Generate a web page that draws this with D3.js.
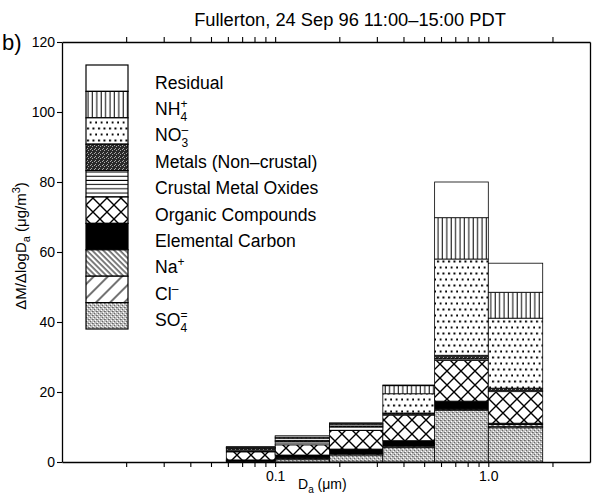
<!DOCTYPE html>
<html>
<head>
<meta charset="utf-8">
<script src="https://d3js.org/d3.v7.min.js"></script>
<style>
body { margin: 0; background: #fff; }
text { font-family: "Liberation Sans", Arial, Helvetica, sans-serif; fill: #000; }
</style>
</head>
<body>
<div id="chart"></div>
<script>
// MOUDI size bins (um)
var binLo = [0.059, 0.1, 0.18, 0.32, 0.56, 1.0]
var binHi = [0.1, 0.18, 0.32, 0.56, 1.0, 1.8]

// stack order, bottom to top
var species = ["SO4", "Cl", "Na", "EC", "Organic", "Crustal", "Metals", "NO3", "NH4", "Residual"]

// dM/dlogDa (ug/m3) for each bin
var so4      = [0.2, 0.8, 2.0, 4.2, 14.8, 9.8]
var cl       = [0.1, 0.2, 0.3, 0.3, 0.2, 0.4]
var na       = [0.1, 0.2, 0.2, 0.2, 0.3, 0.5]
var ec       = [0.2, 0.8, 1.2, 1.4, 2.1, 0.4]
var organic  = [2.3, 2.9, 5.3, 7.3, 11.6, 9.0]
var crustal  = [0.5, 1.0, 1.0, 0.3, 0.5, 0.4]
var metals   = [0.5, 0.3, 0.3, 0.3, 1.0, 0.6]
var no3      = [0.2, 0.6, 0.5, 5.5, 27.5, 20.0]
var nh4      = [0.1, 0.3, 0.2, 2.3, 11.8, 7.4]
var residual = [0.2, 0.4, 0.2, 0.2, 10.2, 8.3]

var yTicks = [0, 20, 40, 60, 80, 100, 120]
var xTicks = [0.02, 0.03, 0.04, 0.05, 0.06, 0.07, 0.08, 0.09, 0.1,
              0.2, 0.3, 0.4, 0.5, 0.6, 0.7, 0.8, 0.9, 1, 2]
var xTickLabels = {0.1: "0.1", 1: "1.0"}

// legend, top to bottom
var legendKeys = ["Residual", "NH4", "NO3", "Metals", "Crustal", "Organic", "EC", "Na", "Cl", "SO4"]
var legendText = ["Residual", "NH", "NO", "Metals (Non\u2013crustal)", "Crustal Metal Oxides",
                  "Organic Compounds", "Elemental Carbon", "Na", "Cl", "SO"]
var legendSup  = ["", "+", "\u2013", "", "", "", "", "+", "\u2013", "="]
var legendSub  = ["", "4", "3", "", "", "", "", "", "", "4"]

var margin = {top: 42, right: 2, bottom: 33, left: 62},
    width = 592 - margin.left - margin.right,
    height = 495 - margin.top - margin.bottom;

var root = d3.select("#chart")
  .append("svg")
    .attr("width", 592)
    .attr("height", 495)

// fill patterns
var defs = root.append("defs")
function pattern(id, w, h, transform) {
  var p = defs.append("pattern")
    .attr("id", id)
    .attr("patternUnits", "userSpaceOnUse")
    .attr("width", w)
    .attr("height", h)
  if (transform) p.attr("patternTransform", transform)
  p.append("rect").attr("width", w).attr("height", h).attr("fill", "#fff")
  return p
}
var p
p = pattern("vlines", 4.4, 4)
p.append("line").attr("x1", 2).attr("x2", 2).attr("y1", 0).attr("y2", 4).attr("stroke", "#000").attr("stroke-width", 1)
p = pattern("dots", 5.5, 12)
p.append("rect").attr("x", 1).attr("y", 2.5).attr("width", 2).attr("height", 2).attr("fill", "#000")
p.append("rect").attr("x", 3.75).attr("y", 8.5).attr("width", 2).attr("height", 2).attr("fill", "#000")
p = pattern("dense", 4, 4)
p.select("rect").attr("fill", "#2a2a2a")
;[[0,0],[2,1],[1,3]].forEach(function(d){
  p.append("rect").attr("x", d[0]).attr("y", d[1]).attr("width", 1).attr("height", 1).attr("fill", "#aaa")
})
p = pattern("hlines", 4, 4.2)
p.append("line").attr("x1", 0).attr("x2", 4).attr("y1", 2).attr("y2", 2).attr("stroke", "#000").attr("stroke-width", 1)
p = pattern("cross", 14, 14)
p.append("path").attr("d", "M0,0L14,14M14,0L0,14").attr("stroke", "#000").attr("stroke-width", 1.4)
p = pattern("back", 3.9, 4, "rotate(-45)")
p.append("line").attr("x1", 2).attr("x2", 2).attr("y1", 0).attr("y2", 4).attr("stroke", "#000").attr("stroke-width", 1)
p = pattern("fwd", 10, 10, "rotate(45)")
p.append("line").attr("x1", 5).attr("x2", 5).attr("y1", 0).attr("y2", 10).attr("stroke", "#000").attr("stroke-width", 1.1)
p = pattern("stipple", 4, 4)
p.select("rect").attr("fill", "#bdbdbd")
;[[0,0,"#666"],[2,2,"#666"],[1,3,"#fff"],[3,1,"#fff"],[3,2,"#888"]].forEach(function(d){
  p.append("rect").attr("x", d[0]).attr("y", d[1]).attr("width", 1).attr("height", 1).attr("fill", d[2])
})

var fills = {
  Residual: "#fff", NH4: "url(#vlines)", NO3: "url(#dots)", Metals: "url(#dense)",
  Crustal: "url(#hlines)", Organic: "url(#cross)", EC: "#000", Na: "url(#back)",
  Cl: "url(#fwd)", SO4: "url(#stipple)"
}

var svg = root.append("g")
    .attr("transform", "translate(" + margin.left + "," + margin.top + ")");

// scales
var x = d3.scaleLog()
  .domain([0.01, 3])
  .range([0, width])
var y = d3.scaleLinear()
  .domain([0, 120])
  .range([height, 0])

// build rows for the stack
var values = {SO4: so4, Cl: cl, Na: na, EC: ec, Organic: organic, Crustal: crustal,
              Metals: metals, NO3: no3, NH4: nh4, Residual: residual}
var rows = binLo.map(function(lo, i) {
  var r = {lo: lo, hi: binHi[i]}
  species.forEach(function(k){ r[k] = values[k][i] })
  return r
})
var stacked = d3.stack().keys(species)(rows)

// bars
svg.append("g")
  .selectAll("g")
  .data(stacked)
  .enter()
  .append("g")
    .attr("fill", function(d){ return fills[d.key] })
  .selectAll("rect")
  .data(function(d){ return d })
  .enter()
  .append("rect")
    .attr("x", function(d){ return x(d.data.lo) })
    .attr("width", function(d){ return x(d.data.hi) - x(d.data.lo) })
    .attr("y", function(d){ return y(d[1]) })
    .attr("height", function(d){ return y(d[0]) - y(d[1]) })
    .attr("stroke", "#000")
    .attr("stroke-width", 0.8)

// bar outlines
var top = stacked[stacked.length - 1]
svg.append("g")
  .selectAll("rect")
  .data(top)
  .enter()
  .append("rect")
    .attr("x", function(d){ return x(d.data.lo) })
    .attr("width", function(d){ return x(d.data.hi) - x(d.data.lo) })
    .attr("y", function(d){ return y(d[1]) })
    .attr("height", function(d){ return y(0) - y(d[1]) })
    .attr("fill", "none")
    .attr("stroke", "#000")
    .attr("stroke-width", 1.4)

// axes
function styleAxis(g) {
  g.select(".domain").attr("stroke-width", 1.3)
  g.selectAll(".tick line").attr("stroke-width", 1.1)
  g.selectAll("text").attr("font-size", 14).attr("font-family", "Liberation Sans, Arial, sans-serif")
}
svg.append("g")
  .attr("transform", "translate(0," + height + ")")
  .call(d3.axisBottom(x).tickValues(xTicks).tickSize(5).tickSizeOuter(0).tickPadding(4)
    .tickFormat(function(d){ return xTickLabels[d] || "" }))
  .call(styleAxis)
svg.append("g")
  .call(d3.axisTop(x).tickValues(xTicks).tickSize(5).tickSizeOuter(0).tickFormat(""))
  .call(styleAxis)
svg.append("g")
  .call(d3.axisLeft(y).tickValues(yTicks).tickSize(5).tickSizeOuter(0).tickPadding(2))
  .call(styleAxis)
svg.append("g")
  .attr("transform", "translate(" + width + ",0)")
  .call(d3.axisRight(y).tickValues(yTicks).tickSize(0).tickSizeOuter(0).tickFormat(""))
  .call(styleAxis)

// legend
var rowH = 26.4
var legend = svg.append("g").attr("transform", "translate(24,23)")
legendKeys.forEach(function(k, i) {
  legend.append("rect")
    .attr("x", 0)
    .attr("y", i * rowH)
    .attr("width", 42)
    .attr("height", rowH)
    .attr("fill", fills[k])
    .attr("stroke", "#000")
    .attr("stroke-width", 1.2)
  var t = legend.append("text")
    .attr("x", 69)
    .attr("y", i * rowH + 23.5)
    .attr("font-size", 17.6)
    .text(legendText[i])
  if (legendSup[i]) {
    var s = t.append("tspan").attr("dy", -7).attr("font-size", 12).text(legendSup[i])
    if (legendSub[i]) {
      var w = s.node().getComputedTextLength()
      t.append("tspan").attr("dx", -w).attr("dy", 13).attr("font-size", 12).text(legendSub[i])
    }
  }
})

// titles and labels
root.append("text")
  .attr("x", 350)
  .attr("y", 26)
  .attr("text-anchor", "middle")
  .attr("font-size", 18.3)
  .text("Fullerton, 24 Sep 96 11:00\u201315:00 PDT")
root.append("text")
  .attr("x", 2)
  .attr("y", 50)
  .attr("font-size", 22)
  .text("b)")

var xl = root.append("text")
  .attr("x", 298)
  .attr("y", 489)
  .attr("font-size", 14)
xl.append("tspan").text("D")
xl.append("tspan").attr("dy", 4).attr("font-size", 10).text("a")
xl.append("tspan").attr("dy", -4).text(" (\u03bcm)")

var yl = root.append("text")
  .attr("transform", "translate(26,246) rotate(-90)")
  .attr("text-anchor", "middle")
  .attr("font-size", 15)
yl.append("tspan").text("\u0394M/\u0394logD")
yl.append("tspan").attr("dy", 4).attr("font-size", 11).text("a")
yl.append("tspan").attr("dy", -4).text(" (\u03bcg/m")
yl.append("tspan").attr("dy", -6).attr("font-size", 11).text("3")
yl.append("tspan").attr("dy", 6).text(")")
</script>
</body>
</html>
